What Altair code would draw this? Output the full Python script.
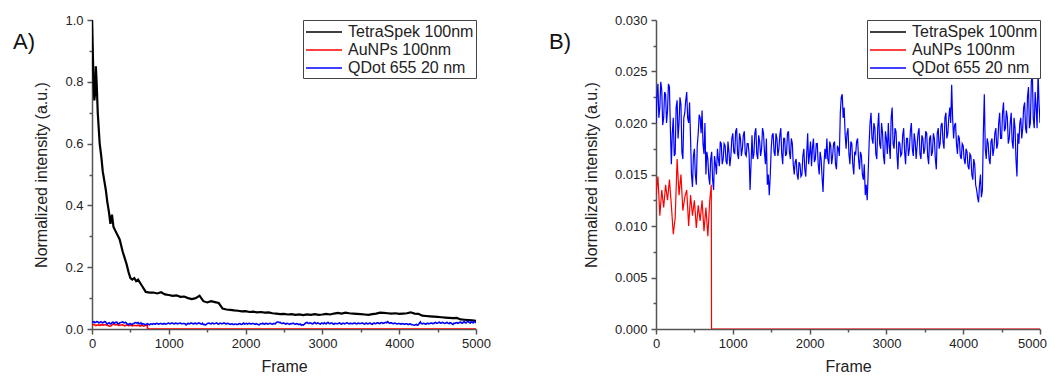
import altair as alt
import pandas as pd

series_names = ["TetraSpek 100nm", "AuNPs 100nm", "QDot 655 20 nm"]
series_colors = ["#000000", "#ff0000", "#0000ff"]

# TetraSpek 100nm (black)
tetra_frames = [0, 10, 20, 30, 40, 50, 60, 75, 90, 100, 120, 140, 160, 180, 200, 220,
                240, 260, 280, 300, 320, 340, 360, 380, 400, 425, 450, 475, 500, 525,
                550, 575, 600, 650, 700, 750] + list(range(800, 5001, 50))
tetra_values = [1.00, 0.90, 0.80, 0.74, 0.76, 0.85, 0.80, 0.70, 0.64, 0.60, 0.56, 0.51,
                0.48, 0.45, 0.41, 0.38, 0.34, 0.37, 0.33, 0.32, 0.31, 0.30, 0.29, 0.27,
                0.25, 0.23, 0.21, 0.185, 0.165, 0.16, 0.165, 0.155, 0.16, 0.14, 0.12, 0.118,
                0.118, 0.115, 0.119, 0.112,
                0.110, 0.107, 0.109, 0.104, 0.105, 0.100, 0.097, 0.100, 0.108, 0.090,
                0.086, 0.090, 0.087, 0.084, 0.066, 0.063, 0.062, 0.060, 0.059, 0.057,
                0.058, 0.055, 0.056, 0.054, 0.055, 0.053, 0.054, 0.051, 0.050, 0.048,
                0.049, 0.047, 0.048, 0.046, 0.047, 0.045, 0.047, 0.046, 0.048, 0.046,
                0.047, 0.049, 0.047, 0.050, 0.052, 0.050, 0.053, 0.051, 0.050, 0.049,
                0.048, 0.047, 0.046, 0.048, 0.050, 0.053, 0.052, 0.051, 0.050, 0.051,
                0.049, 0.050, 0.051, 0.054, 0.050, 0.049, 0.043, 0.042, 0.041, 0.040,
                0.039, 0.038, 0.037, 0.036, 0.035, 0.036, 0.031, 0.030, 0.029, 0.028,
                0.026]

# AuNPs 100nm (red)
aunp_frames = list(range(0, 701, 25)) + [720, 723, 5000]
aunp_values = [0.0130, 0.0148, 0.0110, 0.0135, 0.0118, 0.0140, 0.0125, 0.0145,
               0.0120, 0.0092, 0.0108, 0.0165, 0.0130, 0.0150, 0.0115, 0.0128,
               0.0135, 0.0100, 0.0130, 0.0110, 0.0125, 0.0098, 0.0120, 0.0105,
               0.0125, 0.0095, 0.0118, 0.0090, 0.0125,
               0.0140, 0.0, 0.0]

# QDot 655 20 nm (blue): readings on frames 0, 25, ... 5000
qdot_frames = list(range(0, 5001, 25))
qdot_values = [0.0200, 0.0238, 0.0215, 0.0232, 0.0205, 0.0228, 0.0212, 0.0235,
               0.0160, 0.0205, 0.0170, 0.0222, 0.0200, 0.0218, 0.0165, 0.0210,
               0.0230, 0.0200, 0.0185, 0.0138, 0.0175, 0.0140, 0.0190, 0.0205,
               0.0212, 0.0170, 0.0150, 0.0165, 0.0140, 0.0172, 0.0135, 0.0160,
               0.0175, 0.0158, 0.0180, 0.0165, 0.0178, 0.0160, 0.0172, 0.0168,
               0.0190, 0.0170, 0.0195, 0.0165, 0.0185, 0.0175, 0.0192, 0.0168,
               0.0180, 0.0135, 0.0188, 0.0170, 0.0195, 0.0165, 0.0182, 0.0175,
               0.0190, 0.0160, 0.0140, 0.0130, 0.0175, 0.0190, 0.0168, 0.0185,
               0.0175, 0.0195, 0.0160, 0.0185, 0.0170, 0.0192, 0.0165, 0.0180,
               0.0150, 0.0165, 0.0145, 0.0160, 0.0150, 0.0175, 0.0148, 0.0190,
               0.0170, 0.0158, 0.0185, 0.0165, 0.0180, 0.0150, 0.0165, 0.0133,
               0.0175, 0.0185, 0.0160, 0.0178, 0.0168, 0.0182, 0.0155, 0.0175,
               0.0210, 0.0228, 0.0215, 0.0175, 0.0195, 0.0160, 0.0180, 0.0150,
               0.0170, 0.0185, 0.0155, 0.0168, 0.0145, 0.0130, 0.0125, 0.0180,
               0.0210, 0.0180, 0.0195, 0.0165, 0.0210, 0.0175, 0.0190, 0.0160,
               0.0185, 0.0200, 0.0165, 0.0215, 0.0175, 0.0192, 0.0155, 0.0180,
               0.0170, 0.0195, 0.0160, 0.0185, 0.0175, 0.0200, 0.0168, 0.0182,
               0.0178, 0.0195, 0.0165, 0.0185, 0.0175, 0.0190, 0.0160, 0.0188,
               0.0172, 0.0185, 0.0155, 0.0195, 0.0180, 0.0200, 0.0175, 0.0210,
               0.0190, 0.0215, 0.0237, 0.0185, 0.0200, 0.0170, 0.0185, 0.0165,
               0.0178, 0.0160, 0.0172, 0.0155, 0.0168, 0.0145, 0.0160, 0.0135,
               0.0123, 0.0150, 0.0135, 0.0228, 0.0165, 0.0180, 0.0160, 0.0185,
               0.0175, 0.0195, 0.0180, 0.0210, 0.0185, 0.0220, 0.0195, 0.0205,
               0.0185, 0.0210, 0.0175, 0.0195, 0.0148, 0.0180, 0.0205, 0.0195,
               0.0220, 0.0190, 0.0235, 0.0200, 0.0250, 0.0195, 0.0215, 0.0250,
               0.0200]

# QDot 655 20 nm (blue): readings on frames 12, 37, ... 4987
qdot_mid_frames = list(range(12, 5000, 25))
qdot_mid_values = [0.0225, 0.0205, 0.0240, 0.0198, 0.0230, 0.0200, 0.0238, 0.0195,
                   0.0190, 0.0168, 0.0215, 0.0185, 0.0225, 0.0172, 0.0205, 0.0222,
                   0.0205, 0.0220, 0.0150, 0.0168, 0.0150, 0.0178, 0.0208, 0.0190,
                   0.0180, 0.0200, 0.0172, 0.0148, 0.0165, 0.0145, 0.0168, 0.0150,
                   0.0165, 0.0182, 0.0160, 0.0180, 0.0163, 0.0182, 0.0158, 0.0185,
                   0.0172, 0.0192, 0.0170, 0.0190, 0.0168, 0.0188, 0.0170, 0.0180,
                   0.0170, 0.0160, 0.0165, 0.0190, 0.0170, 0.0188, 0.0168, 0.0195,
                   0.0172, 0.0185, 0.0150, 0.0148, 0.0188, 0.0172, 0.0190, 0.0168,
                   0.0188, 0.0170, 0.0185, 0.0168, 0.0190, 0.0172, 0.0185, 0.0160,
                   0.0162, 0.0150, 0.0162, 0.0148, 0.0168, 0.0155, 0.0170, 0.0160,
                   0.0182, 0.0176, 0.0162, 0.0180, 0.0160, 0.0172, 0.0148, 0.0160,
                   0.0165, 0.0165, 0.0182, 0.0160, 0.0180, 0.0160, 0.0178, 0.0168,
                   0.0225, 0.0205, 0.0190, 0.0190, 0.0170, 0.0182, 0.0160, 0.0172,
                   0.0182, 0.0165, 0.0172, 0.0150, 0.0160, 0.0140, 0.0150, 0.0200,
                   0.0185, 0.0200, 0.0170, 0.0195, 0.0180, 0.0200, 0.0168, 0.0192,
                   0.0170, 0.0178, 0.0205, 0.0180, 0.0195, 0.0170, 0.0182, 0.0168,
                   0.0188, 0.0172, 0.0185, 0.0168, 0.0192, 0.0175, 0.0190, 0.0165,
                   0.0190, 0.0170, 0.0188, 0.0170, 0.0192, 0.0168, 0.0185, 0.0168,
                   0.0190, 0.0165, 0.0190, 0.0175, 0.0198, 0.0182, 0.0205, 0.0185,
                   0.0205, 0.0200, 0.0205, 0.0198, 0.0180, 0.0188, 0.0168, 0.0180,
                   0.0165, 0.0175, 0.0158, 0.0170, 0.0150, 0.0165, 0.0140, 0.0128,
                   0.0140, 0.0128, 0.0190, 0.0175, 0.0185, 0.0165, 0.0182, 0.0168,
                   0.0190, 0.0175, 0.0200, 0.0185, 0.0210, 0.0192, 0.0212, 0.0180,
                   0.0200, 0.0182, 0.0205, 0.0165, 0.0190, 0.0200, 0.0185, 0.0215,
                   0.0195, 0.0225, 0.0195, 0.0240, 0.0205, 0.0230, 0.0195, 0.0220]

x_ticks = [0, 500, 1000, 1500, 2000, 2500, 3000, 3500, 4000, 4500, 5000]
yA_ticks = [0.0, 0.1, 0.2, 0.3, 0.4, 0.5, 0.6, 0.7, 0.8, 0.9, 1.0]
yB_ticks = [0.0, 0.0025, 0.005, 0.0075, 0.01, 0.0125, 0.015, 0.0175, 0.02,
            0.0225, 0.025, 0.0275, 0.03]

df_tetra = pd.DataFrame({"frame": tetra_frames, "value": tetra_values, "series": series_names[0]})
df_aunp = pd.DataFrame({"frame": aunp_frames, "value": aunp_values, "series": series_names[1]})
df_qdot = pd.concat([
    pd.DataFrame({"frame": qdot_frames, "value": qdot_values}),
    pd.DataFrame({"frame": qdot_mid_frames, "value": qdot_mid_values}),
]).sort_values("frame").reset_index(drop=True)
df_qdot["series"] = series_names[2]

FONT = "Liberation Sans"


def panel(tag, tag_dx, ymax, yticks, ylabel_expr, ymajor_test, widths, last_label_shift):
    xaxis = alt.Axis(
        title="Frame", values=x_ticks,
        labelExpr="datum.value % 1000 == 0 ? format(datum.value, 'd') : ''",
        tickSize={"condition": {"test": "datum.value % 1000 == 0", "value": 5}, "value": 3},
        labelOffset={"condition": {"test": "datum.value == 5000", "value": last_label_shift}, "value": 0},
        labelPadding=3, titlePadding=8,
    )
    yaxis = alt.Axis(
        title="Normalized intensity (a.u.)", values=yticks,
        labelExpr=ylabel_expr,
        tickSize={"condition": {"test": ymajor_test, "value": 5}, "value": 3},
        labelPadding=4, titlePadding=15,
    )
    color = alt.Color(
        "series:N",
        scale=alt.Scale(domain=series_names, range=series_colors),
        legend=alt.Legend(title=None, orient="top-right", offset=0),
    )
    layers = []
    for df, w in zip([df_tetra, df_aunp, df_qdot], widths):
        layers.append(
            alt.Chart(df).mark_line(clip=True, strokeWidth=w).encode(
                x=alt.X("frame:Q", scale=alt.Scale(domain=[0, 5000], nice=False), axis=xaxis),
                y=alt.Y("value:Q", scale=alt.Scale(domain=[0, ymax], nice=False), axis=yaxis),
                color=color,
            )
        )
    label = alt.Chart(pd.DataFrame({"t": [tag]})).mark_text(
        align="left", baseline="alphabetic", fontSize=22, font=FONT, color="#111"
    ).encode(text="t:N", x=alt.value(tag_dx), y=alt.value(29))
    return alt.layer(*layers, label).properties(width=384, height=309)


panel_a = panel("A)", -79, 1.0, yA_ticks,
                "round(datum.value * 10) % 2 == 0 ? format(datum.value, '.1f') : ''",
                "round(datum.value * 10) % 2 == 0", [2.2, 1.6, 1.6], 0)
panel_b = panel("B)", -107, 0.03, yB_ticks,
                "round(datum.value * 400) % 2 == 0 ? format(datum.value, '.3f') : ''",
                "round(datum.value * 400) % 2 == 0", [1.2, 1.2, 1.2], -8)

chart = alt.hconcat(panel_a, panel_b, spacing=58).resolve_scale(
    color="independent", x="independent", y="independent"
).properties(
    padding={"left": 5, "top": 6, "right": 0, "bottom": 0}
).configure_axis(
    labelFont=FONT, labelFontSize=13, labelColor="#222",
    titleFont=FONT, titleFontSize=16, titleFontWeight="normal", titleColor="#222",
    domainColor="#555", tickColor="#555", domainWidth=1.5, tickWidth=1.5,
    grid=False, labelFlush=False, labelOverlap=False,
).configure_legend(
    labelFont=FONT, labelFontSize=16, labelColor="#222",
    symbolType="M-1,0H3", symbolSize=324, symbolStrokeWidth=1.5,
    fillColor="white", strokeColor="#444", padding=2, labelOffset=23,
    rowPadding=0, cornerRadius=0,
).configure_view(stroke=None)

chart.save("out.html", embed_options={"renderer": "svg", "actions": False})
